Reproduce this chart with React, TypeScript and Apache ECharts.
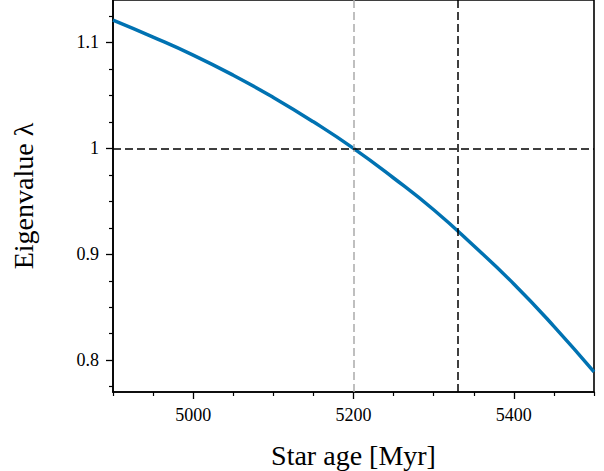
import React, { useEffect, useRef } from "react";
import * as echarts from "echarts";

const ages = [4900, 4950, 5000, 5050, 5100, 5150, 5200, 5250, 5300, 5350, 5400, 5450, 5500];
const eigenvalues = [1.121, 1.105, 1.088, 1.069, 1.048, 1.025, 1.0, 0.972, 0.942, 0.908, 0.872, 0.832, 0.789];

const xMajorTicks = [5000, 5200, 5400];
const xMinorTicks = [4900, 4950, 5050, 5100, 5150, 5250, 5300, 5350, 5450, 5500];
const yMajorTicks = [0.8, 0.9, 1.0, 1.1];
const yMinorTicks = [0.775, 0.825, 0.85, 0.875, 0.925, 0.95, 0.975, 1.025, 1.05, 1.075, 1.125];

const refAgeGray = 5200;
const refAgeBlack = 5330;
const refEigen = 1.0;

const X_MIN = 4900;
const X_MAX = 5500;
const X_STEP = 100;
const Y_MIN = 0.77;
const Y_MAX = 1.14;
const Y_STEP = 0.01;

const FONT = "Liberation Serif";

export default function App() {
  const ref = useRef<HTMLDivElement>(null);
  useEffect(() => {
    if (!ref.current) return;
    const chart = echarts.init(ref.current, undefined, { renderer: "svg" });
    const near = (v: number, list: number[], eps: number) => list.some((m) => Math.abs(m - v) < eps);
    const yFmt = (v: number) => (near(v, yMajorTicks, 1e-6) ? String(Math.round(v * 1000) / 1000) : "");
    const xFmt = (v: number) => (near(v, xMajorTicks, 1e-6) ? String(Math.round(v)) : "");
    chart.setOption({
      animation: false,
      backgroundColor: "#ffffff",
      textStyle: { fontFamily: FONT, color: "#000" },
      grid: {
        left: 113,
        right: 10,
        top: 0,
        bottom: 79,
        show: true,
        borderColor: "#000",
        borderWidth: 1.6,
        backgroundColor: "transparent",
        outerBoundsMode: "none",
        containLabel: false,
      },
      xAxis: [
        {
          type: "value",
          min: X_MIN,
          max: X_MAX,
          interval: X_STEP,
          name: "Star age [Myr]",
          nameLocation: "middle",
          nameGap: 49,
          nameTextStyle: { fontFamily: FONT, fontSize: 28, color: "#000" },
          axisLine: { show: true, lineStyle: { color: "#000", width: 1.6 } },
          axisTick: { show: true, customValues: xMajorTicks, length: 7, lineStyle: { color: "#000", width: 1.3 } },
          axisLabel: {
            show: true,
            formatter: xFmt,
            margin: 14,
            fontFamily: FONT,
            fontSize: 18,
            color: "#000",
            showMinLabel: true,
            showMaxLabel: true,
          },
          splitLine: { show: false },
        },
        {
          type: "value",
          min: X_MIN,
          max: X_MAX,
          position: "bottom",
          offset: 0,
          axisLine: { show: false },
          axisTick: { show: true, customValues: xMinorTicks, length: 4, lineStyle: { color: "#000", width: 1.2 } },
          axisLabel: { show: false },
          splitLine: { show: false },
        },
      ],
      yAxis: [
        {
          type: "value",
          min: Y_MIN,
          max: Y_MAX,
          interval: Y_STEP,
          name: "Eigenvalue λ",
          nameLocation: "middle",
          nameGap: 76,
          nameTextStyle: { fontFamily: FONT, fontSize: 28, color: "#000" },
          axisLine: { show: true, lineStyle: { color: "#000", width: 1.6 } },
          axisTick: { show: true, customValues: yMajorTicks, length: 7, lineStyle: { color: "#000", width: 1.3 } },
          axisLabel: {
            show: true,
            margin: 14,
            formatter: yFmt,
            fontFamily: FONT,
            fontSize: 18,
            color: "#000",
            hideOverlap: false,
          },
          splitLine: { show: false },
        },
        {
          type: "value",
          min: Y_MIN,
          max: Y_MAX,
          position: "left",
          offset: 0,
          axisLine: { show: false },
          axisTick: { show: true, customValues: yMinorTicks, length: 4, lineStyle: { color: "#000", width: 1.2 } },
          axisLabel: { show: false },
          splitLine: { show: false },
        },
      ],
      series: [
        {
          type: "line",
          xAxisIndex: 0,
          yAxisIndex: 0,
          data: ages.map((a, i) => [a, eigenvalues[i]]),
          smooth: true,
          showSymbol: false,
          symbol: "none",
          lineStyle: { color: "#0072B2", width: 3.5 },
          z: 3,
          markLine: {
            silent: true,
            symbol: "none",
            label: { show: false },
            data: [
              { xAxis: refAgeGray, lineStyle: { color: "#aaaaaa", type: [8, 4], width: 1.5 } },
              { xAxis: refAgeBlack, lineStyle: { color: "#000", type: [8, 4], width: 1.5 } },
              { yAxis: refEigen, lineStyle: { color: "#000", type: [8, 4], width: 1.5 } },
            ],
          },
        },
      ],
    });
    return () => chart.dispose();
  }, []);
  return (
    <div
      ref={ref}
      style={{ position: "fixed", left: 0, top: 0, width: 604, height: 471, background: "#fff" }}
    />
  );
}
